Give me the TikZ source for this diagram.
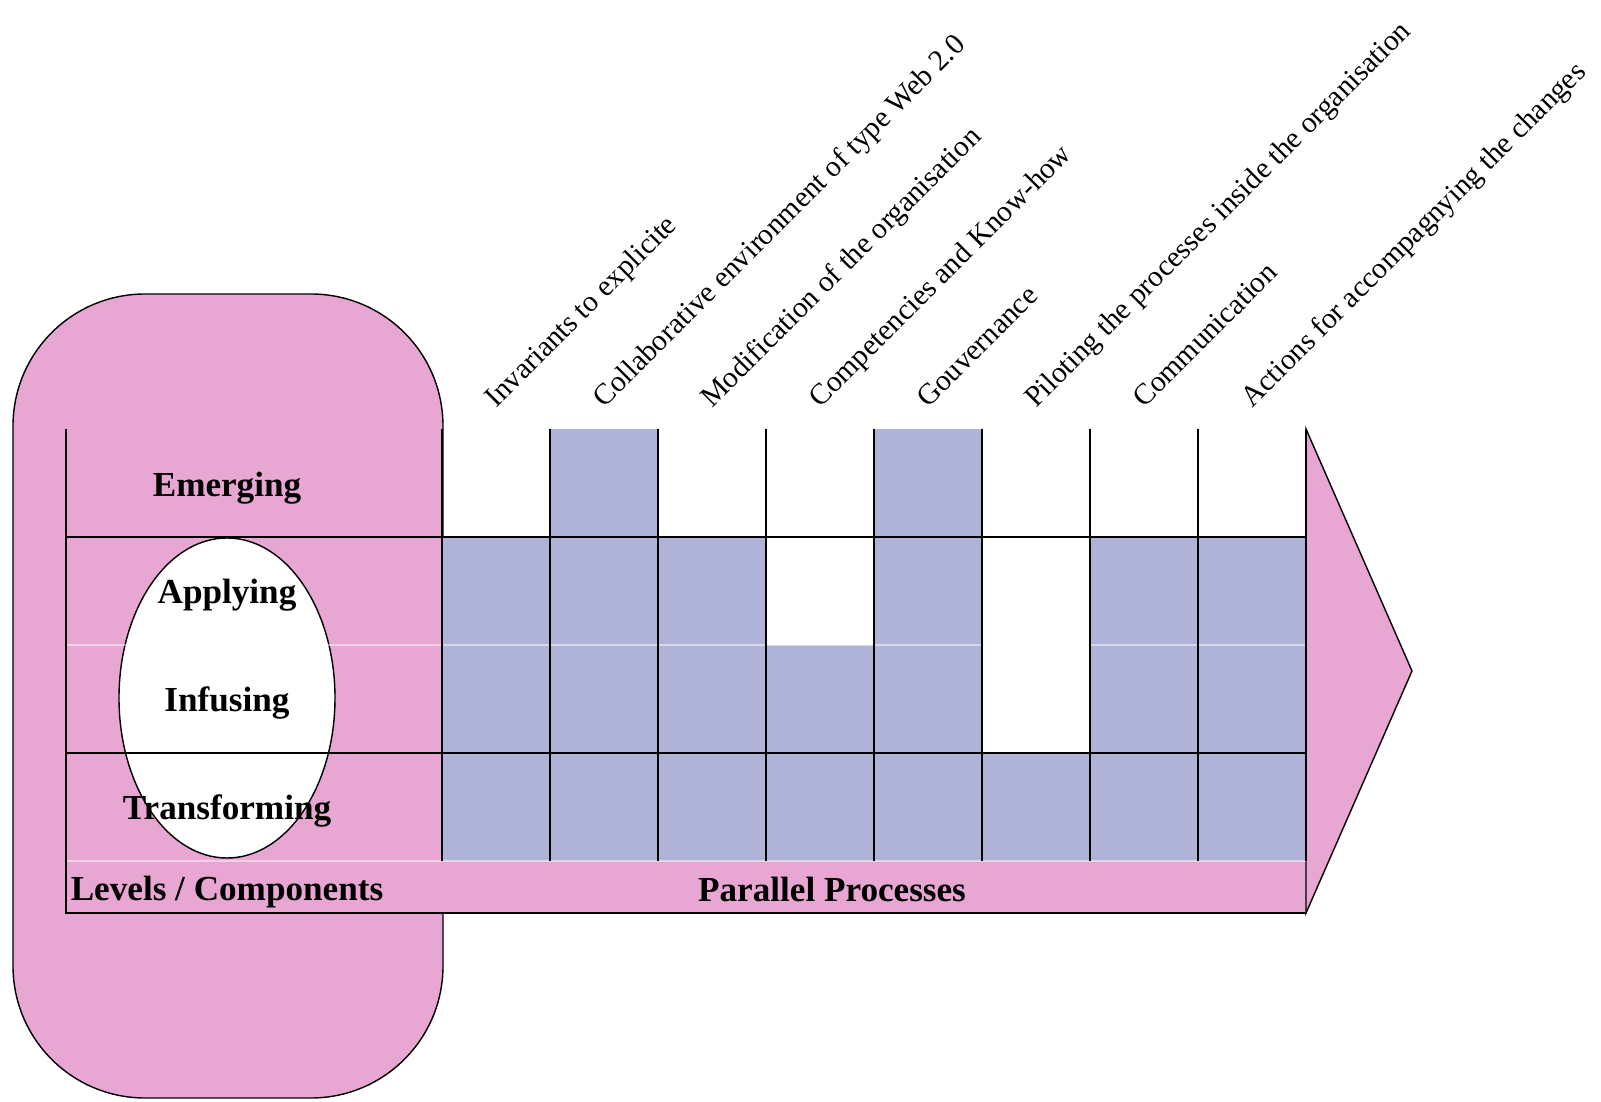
\documentclass[tikz,border=0pt]{standalone}
\usepackage{fontspec}
\setmainfont{Liberation Serif}
\definecolor{levelpink}{RGB}{232,166,210}
\definecolor{procblue}{RGB}{176,179,216}

\begin{document}
\begin{tikzpicture}[
    levellabel/.style={font=\fontsize{25}{30}\selectfont\bfseries},
    proclabel/.style={font=\fontsize{21}{25}\selectfont, rotate=45, anchor=base west, inner sep=0pt},
    gridline/.style={line width=1pt},
    faintline/.style={white, opacity=0.5, line width=0.8pt},
    cellfill/.style={fill=procblue}
]
        \useasboundingbox (0,0) rectangle (40.025,27.525);
        % Draw the rounded frame of the levels
        \draw[gridline, fill=levelpink, rounded corners=3.3cm] (0.325,0.075) rectangle (11.075,20.175);
        % Draw the ellipse round the middle levels
        \draw[gridline, fill=white] (5.675,10.075) ellipse (2.7 and 4);
        % Fill the cells of each process
        \fill[cellfill] (11.05,6) rectangle (13.75,14.1);
        \fill[cellfill] (13.75,6) rectangle (16.45,16.8);
        \fill[cellfill] (16.45,6) rectangle (19.15,14.1);
        \fill[cellfill] (19.15,6) rectangle (21.85,11.4);
        \fill[cellfill] (21.85,6) rectangle (24.55,16.8);
        \fill[cellfill] (24.55,6) rectangle (27.25,8.7);
        \fill[cellfill] (27.25,6) rectangle (29.95,14.1);
        \fill[cellfill] (29.95,6) rectangle (32.65,14.1);
        % Draw the arrow of the processes
        \fill[levelpink] (11.05,4.7) rectangle (32.65,6);
        \draw[gridline, fill=levelpink] (32.65,16.8) -- (35.3,10.75) -- (32.65,4.7) -- cycle;
        % Draw the grid
        \draw[faintline] (1.65,11.4) -- (32.65,11.4);
        \draw[faintline] (1.65,6) -- (32.65,6);
        \draw[gridline] (1.65,16.8) -- (1.65,4.7) -- (32.65,4.7);
        \draw[gridline] (1.65,14.1) -- (32.65,14.1);
        \draw[gridline] (1.65,8.7) -- (32.65,8.7);
        \foreach \i in {0,...,8}
            \draw[gridline] (11.05+2.7*\i,16.8) -- ++(0,-10.8);
        % Levels
        \node[levellabel] (emerging) at (5.675,15.33) {Emerging};
        \node[levellabel] (applying) at (5.675,12.65) {Applying};
        \node[levellabel] (infusing) at (5.675,9.95) {Infusing};
        \node[levellabel] (transforming) at (5.675,7.25) {Transforming};
        \node[levellabel] (levels) at (5.675,5.23) {Levels / Components};
        \node[levellabel] (parallel) at (20.8,5.3) {Parallel Processes};
        % Processes
        \node[proclabel] (invariants) at (12.4,17.3) {Invariants to explicite};
        \node[proclabel] (collaborative) at (15.1,17.3) {Collaborative environment of type Web 2.0};
        \node[proclabel] (modification) at (17.8,17.3) {Modification of the organisation};
        \node[proclabel] (competencies) at (20.5,17.3) {Competencies and Know-how};
        \node[proclabel] (gouvernance) at (23.2,17.3) {Gouvernance};
        \node[proclabel] (piloting) at (25.9,17.3) {Piloting the processes inside the organisation};
        \node[proclabel] (communication) at (28.6,17.3) {Communication};
        \node[proclabel] (actions) at (31.3,17.3) {Actions for accompagnying the changes};
    \end{tikzpicture}
\end{document}
